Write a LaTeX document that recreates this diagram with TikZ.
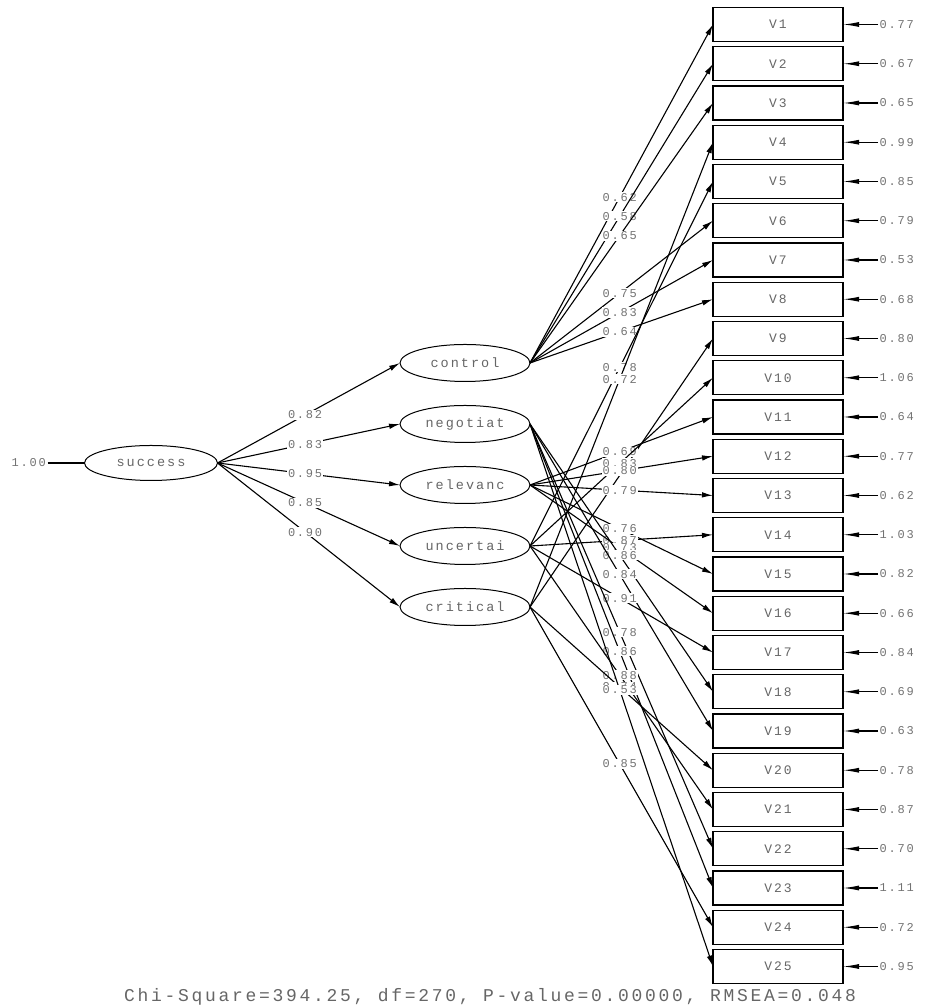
\documentclass[tikz,border=0pt]{standalone}
\usepackage{fontspec}
\newfontfamily\lisrelfont[LetterSpace=15]{Liberation Mono}
\newfontfamily\lisrelwide[LetterSpace=15]{Liberation Mono}
\usetikzlibrary{arrows.meta,positioning,shapes.geometric}

\begin{document}
\begin{tikzpicture}
  [x=1pt,y=1pt,line width=1.1pt,
  >={Latex[length=11pt,width=5.5pt]},
  latent/.style={ellipse,draw,line width=1pt,outer sep=0pt,minimum width=130pt,minimum height=37pt,inner sep=0pt,font=\lisrelfont\fontsize{13.5}{14}\selectfont,text=black!60},
observed/.style={rectangle,draw,line width=1.1pt,outer sep=0pt,minimum width=130pt,minimum height=34pt,inner sep=0pt,font=\lisrelfont\fontsize{13}{14}\selectfont,text=black!60},
coef/.style={fill=white,inner sep=1pt,font=\lisrelfont\fontsize{12}{12}\selectfont,text=black!55},
errval/.style={inner sep=1pt,font=\lisrelfont\fontsize{12}{12}\selectfont,text=black!55},
err/.style={->,>={Latex[length=16pt,width=5pt]}}]

\useasboundingbox (0,0) rectangle (925,1008);

% latent variables
\node[latent,minimum width=133pt,minimum height=35pt] (success) at (151,545) {success};
\node[errval] (succvar) [left=37pt of success] {1.00};
\draw (succvar) -- (success);

\node[latent] (control) at (465,645) {control};
\node[latent] (negotiat) [below=24pt of control] {negotiat};
\node[latent] (relevanc) [below=24pt of negotiat] {relevanc};
\node[latent] (uncertai) [below=24pt of relevanc] {uncertai};
\node[latent] (critical) [below=24pt of uncertai] {critical};

\draw [->] (success.east) -- node [coef,pos=0.48] {0.82} (control.west);
\draw [->] (success.east) -- node [coef,pos=0.48] {0.83} (negotiat.west);
\draw [->] (success.east) -- node [coef,pos=0.48] {0.95} (relevanc.west);
\draw [->] (success.east) -- node [coef,pos=0.48] {0.85} (uncertai.west);
\draw [->] (success.east) -- node [coef,pos=0.48] {0.90} (critical.west);

% observed variables
\node[observed] (v1) at (778,983.5) {V1};
\node[observed] (v2) [below=5.25pt of v1] {V2};
\node[observed] (v3) [below=5.25pt of v2] {V3};
\node[observed] (v4) [below=5.25pt of v3] {V4};
\node[observed] (v5) [below=5.25pt of v4] {V5};
\node[observed] (v6) [below=5.25pt of v5] {V6};
\node[observed] (v7) [below=5.25pt of v6] {V7};
\node[observed] (v8) [below=5.25pt of v7] {V8};
\node[observed] (v9) [below=5.25pt of v8] {V9};
\node[observed] (v10) [below=5.25pt of v9] {V10};
\node[observed] (v11) [below=5.25pt of v10] {V11};
\node[observed] (v12) [below=5.25pt of v11] {V12};
\node[observed] (v13) [below=5.25pt of v12] {V13};
\node[observed] (v14) [below=5.25pt of v13] {V14};
\node[observed] (v15) [below=5.25pt of v14] {V15};
\node[observed] (v16) [below=5.25pt of v15] {V16};
\node[observed] (v17) [below=5.25pt of v16] {V17};
\node[observed] (v18) [below=5.25pt of v17] {V18};
\node[observed] (v19) [below=5.25pt of v18] {V19};
\node[observed] (v20) [below=5.25pt of v19] {V20};
\node[observed] (v21) [below=5.25pt of v20] {V21};
\node[observed] (v22) [below=5.25pt of v21] {V22};
\node[observed] (v23) [below=5.25pt of v22] {V23};
\node[observed] (v24) [below=5.25pt of v23] {V24};
\node[observed] (v25) [below=5.25pt of v24] {V25};

% error variances
\node[errval] (e1) [right=35pt of v1] {0.77};
\node[errval] (e2) [right=35pt of v2] {0.67};
\node[errval] (e3) [right=35pt of v3] {0.65};
\node[errval] (e4) [right=35pt of v4] {0.99};
\node[errval] (e5) [right=35pt of v5] {0.85};
\node[errval] (e6) [right=35pt of v6] {0.79};
\node[errval] (e7) [right=35pt of v7] {0.53};
\node[errval] (e8) [right=35pt of v8] {0.68};
\node[errval] (e9) [right=35pt of v9] {0.80};
\node[errval] (e10) [right=35pt of v10] {1.06};
\node[errval] (e11) [right=35pt of v11] {0.64};
\node[errval] (e12) [right=35pt of v12] {0.77};
\node[errval] (e13) [right=35pt of v13] {0.62};
\node[errval] (e14) [right=35pt of v14] {1.03};
\node[errval] (e15) [right=35pt of v15] {0.82};
\node[errval] (e16) [right=35pt of v16] {0.66};
\node[errval] (e17) [right=35pt of v17] {0.84};
\node[errval] (e18) [right=35pt of v18] {0.69};
\node[errval] (e19) [right=35pt of v19] {0.63};
\node[errval] (e20) [right=35pt of v20] {0.78};
\node[errval] (e21) [right=35pt of v21] {0.87};
\node[errval] (e22) [right=35pt of v22] {0.70};
\node[errval] (e23) [right=35pt of v23] {1.11};
\node[errval] (e24) [right=35pt of v24] {0.72};
\node[errval] (e25) [right=35pt of v25] {0.95};

\draw [err] (e1) -- (v1);
\draw [err] (e2) -- (v2);
\draw [err] (e3) -- (v3);
\draw [err] (e4) -- (v4);
\draw [err] (e5) -- (v5);
\draw [err] (e6) -- (v6);
\draw [err] (e7) -- (v7);
\draw [err] (e8) -- (v8);
\draw [err] (e9) -- (v9);
\draw [err] (e10) -- (v10);
\draw [err] (e11) -- (v11);
\draw [err] (e12) -- (v12);
\draw [err] (e13) -- (v13);
\draw [err] (e14) -- (v14);
\draw [err] (e15) -- (v15);
\draw [err] (e16) -- (v16);
\draw [err] (e17) -- (v17);
\draw [err] (e18) -- (v18);
\draw [err] (e19) -- (v19);
\draw [err] (e20) -- (v20);
\draw [err] (e21) -- (v21);
\draw [err] (e22) -- (v22);
\draw [err] (e23) -- (v23);
\draw [err] (e24) -- (v24);
\draw [err] (e25) -- (v25);

% loadings
\draw [->] (control.east) -- node [coef,pos=0.49] {0.62} (v1.west);
\draw [->] (control.east) -- node [coef,pos=0.49] {0.58} (v2.west);
\draw [->] (control.east) -- node [coef,pos=0.49] {0.65} (v3.west);
\draw [->] (control.east) -- node [coef,pos=0.49] {0.75} (v6.west);
\draw [->] (control.east) -- node [coef,pos=0.49] {0.83} (v7.west);
\draw [->] (control.east) -- node [coef,pos=0.49] {0.64} (v8.west);

\draw [->] (critical.east) -- (v9.west);
\draw [->] (uncertai.east) -- node [coef,pos=0.49] {0.78} (v5.west);
\draw [->] (critical.east) -- node [coef,pos=0.49] {0.72} (v4.west);

\draw [->] (relevanc.east) -- node [coef,pos=0.49] {0.69} (v11.west);
\draw [->] (uncertai.east) -- node [coef,pos=0.49] {0.83} (v10.west);
\draw [->] (relevanc.east) -- node [coef,pos=0.49] {0.80} (v12.west);
\draw [->] (relevanc.east) -- node [coef,pos=0.49] {0.79} (v13.west);

\draw [->] (relevanc.east) -- node [coef,pos=0.49] {0.76} (v15.west);
\draw [->] (uncertai.east) -- node [coef,pos=0.49] {0.87} (v14.west);
\draw [->] (relevanc.east) -- node [coef,pos=0.49] {0.73} (v16.west);
\draw [->] (negotiat.east) -- node [coef,pos=0.49] {0.86} (v18.west);
\draw [->] (negotiat.east) -- node [coef,pos=0.49] {0.84} (v19.west);
\draw [->] (uncertai.east) -- node [coef,pos=0.49] {0.91} (v17.west);
\draw [->] (negotiat.east) -- node [coef,pos=0.49] {0.78} (v22.west);
\draw [->] (negotiat.east) -- node [coef,pos=0.49] {0.86} (v23.west);
\draw [->] (uncertai.east) -- node [coef,pos=0.49] {0.88} (v21.west);
\draw [->] (critical.east) -- node [coef,pos=0.49] {0.74} (v20.west);
\draw [->] (negotiat.east) -- node [coef,pos=0.49] {0.53} (v25.west);
\draw [->] (critical.east) -- node [coef,pos=0.49] {0.85} (v24.west);

% fit statistics
\node[font=\lisrelwide\fontsize{18}{18}\selectfont,text=black!60] (chisq) at (490,11) {Chi-Square=394.25, df=270, P-value=0.00000, RMSEA=0.048};

\end{tikzpicture}
\end{document}
